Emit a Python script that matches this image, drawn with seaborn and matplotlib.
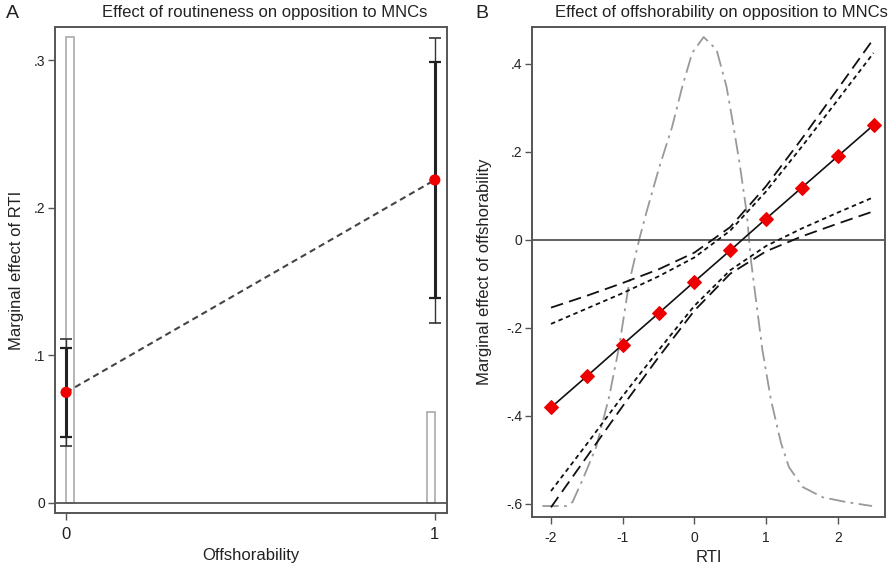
import numpy as np
import pandas as pd
import matplotlib
matplotlib.use("Agg")
import matplotlib.pyplot as plt
import seaborn as sns

# ---- panel A: effect of routineness (RTI) by offshorability ----
offsh = [0, 1]
me_rti = [0.075, 0.219]
ci95_lo = [0.0386, 0.1218]
ci95_hi = [0.111, 0.3155]
ci90_lo = [0.045, 0.1388]
ci90_hi = [0.105, 0.2988]
offsh_share = [0.316, 0.062]

# ---- panel B: effect of offshorability along RTI ----
rti = [-2, -1.5, -1, -0.5, 0, 0.5, 1, 1.5, 2, 2.5]
me_off = [-0.381, -0.310, -0.238, -0.167, -0.095, -0.024, 0.048, 0.119, 0.190, 0.261]
up95 = [-0.154, -0.127, -0.098, -0.067, -0.029, 0.029, 0.122, 0.230, 0.343, 0.457]
lo95 = [-0.608, -0.493, -0.378, -0.267, -0.161, -0.077, -0.026, 0.008, 0.037, 0.065]
up90 = [-0.191, -0.156, -0.121, -0.083, -0.040, 0.021, 0.110, 0.212, 0.318, 0.425]
lo90 = [-0.571, -0.464, -0.355, -0.251, -0.150, -0.069, -0.014, 0.026, 0.062, 0.097]

# kernel density of RTI (drawn on hidden second axis)
dens_x = [-2.12, -1.78, -1.70, -1.56, -1.37, -1.19, -1.05, -0.91, -0.77, -0.67, -0.49,
          -0.31, -0.17, -0.03, 0.13, 0.31, 0.45, 0.53, 0.63, 0.73, 0.79, 0.86, 0.95,
          1.07, 1.21, 1.32, 1.51, 1.79, 2.12, 2.48]
dens_y = [0.0, 0.0, 0.005, 0.033, 0.074, 0.137, 0.200, 0.281, 0.335, 0.369, 0.426,
          0.477, 0.527, 0.570, 0.590, 0.574, 0.527, 0.486, 0.432, 0.369, 0.309, 0.259,
          0.196, 0.133, 0.079, 0.049, 0.024, 0.011, 0.005, 0.0]

sns.set_theme(style="white")
plt.rcParams['font.family'] = ['Liberation Sans', 'DejaVu Sans']

W, H = 892, 567
fig = plt.figure(figsize=(W / 100, H / 100), dpi=100)

def px_axes(l, t, r, b):
    return fig.add_axes([l / W, 1 - b / H, (r - l) / W, (b - t) / H])

frame = '#555555'
txt = '#222222'

def style_frame(ax):
    for s in ax.spines.values():
        s.set_color(frame)
        s.set_linewidth(1.4)
    ax.tick_params(direction='out', length=5, width=1, color=frame, pad=2,
                   left=True, bottom=True, labelcolor=txt)

# ---------------- panel A ----------------
axA = px_axes(55, 27, 447, 513)
style_frame(axA)

# histogram of offshorability (outline bars)
axA.bar([offsh[0]], [offsh_share[0]], width=0.022, align='edge',
        facecolor='none', edgecolor='#aaaaaa', linewidth=1.2)
axA.bar([offsh[1]], [offsh_share[1]], width=-0.022, align='edge',
        facecolor='none', edgecolor='#aaaaaa', linewidth=1.2)

axA.axhline(0, color=frame, lw=1.3, zorder=2)

dfA = pd.DataFrame({'offsh': offsh, 'me': me_rti})
sns.lineplot(data=dfA, x='offsh', y='me', ax=axA, color='#444444', lw=1.5,
             linestyle=(0, (3, 2)), zorder=3)
axA.errorbar(offsh, me_rti,
             yerr=[np.subtract(me_rti, ci95_lo), np.subtract(ci95_hi, me_rti)],
             fmt='none', ecolor='#333333', elinewidth=1.0, capsize=4.5, capthick=1.2, zorder=4)
axA.errorbar(offsh, me_rti,
             yerr=[np.subtract(me_rti, ci90_lo), np.subtract(ci90_hi, me_rti)],
             fmt='none', ecolor='#222222', elinewidth=2.2, capsize=4.5, capthick=1.6, zorder=5)
sns.scatterplot(data=dfA, x='offsh', y='me', ax=axA, color='#ee0000', s=65,
                edgecolor='none', zorder=6)

axA.set_xlim(-0.03, 1.033)
axA.set_ylim(-0.0068, 0.3227)
axA.set_xticks([0, 1])
axA.set_xticklabels(['0', '1'], fontsize=12)
axA.set_yticks([0, 0.1, 0.2, 0.3])
axA.set_yticklabels(['0', '.1', '.2', '.3'], fontsize=10)
axA.tick_params(axis='x', pad=5)
axA.set_xlabel('Offshorability', fontsize=12, color=txt)
axA.set_ylabel('Marginal effect of RTI', fontsize=12, color=txt)
axA.xaxis.set_label_coords(0.5, -0.072)
axA.yaxis.set_label_coords(-0.079, 0.5)

# ---------------- panel B ----------------
axB = px_axes(532, 27, 885, 517)
style_frame(axB)

axB2 = axB.twinx()
axB2.set_ylim(-0.0138, 0.6026)
axB2.axis('off')
dfD = pd.DataFrame({'rti': dens_x, 'dens': dens_y})
sns.lineplot(data=dfD, x='rti', y='dens', ax=axB2, color='#999999', lw=1.3,
             linestyle=(0, (9, 3, 1.5, 3)))

axB.axhline(0, color=frame, lw=1.3, zorder=1)

dfB = pd.DataFrame({'rti': rti, 'me': me_off, 'up95': up95, 'lo95': lo95,
                    'up90': up90, 'lo90': lo90})
for col in ['up95', 'lo95']:
    sns.lineplot(data=dfB, x='rti', y=col, ax=axB, color='#111111', lw=1.3,
                 linestyle=(0, (7, 3.5)))
for col in ['up90', 'lo90']:
    sns.lineplot(data=dfB, x='rti', y=col, ax=axB, color='#111111', lw=1.3,
                 linestyle=(0, (2.5, 2)))
sns.lineplot(data=dfB, x='rti', y='me', ax=axB, color='#111111', lw=1.2,
             marker='D', markersize=7, markerfacecolor='#ee0000',
             markeredgecolor='#ee0000')

axB.set_xlim(-2.265, 2.66)
axB.set_ylim(-0.63, 0.484)
axB.set_xticks([-2, -1, 0, 1, 2])
axB.set_xticklabels(['-2', '-1', '0', '1', '2'], fontsize=10)
axB.set_yticks([-0.6, -0.4, -0.2, 0, 0.2, 0.4])
axB.set_yticklabels(['-.6', '-.4', '-.2', '0', '.2', '.4'], fontsize=10)
axB.tick_params(axis='x', pad=5)
axB.set_xlabel('RTI', fontsize=12, color=txt)
axB.set_ylabel('Marginal effect of offshorability', fontsize=12, color=txt)
axB.xaxis.set_label_coords(0.5, -0.068)
axB.yaxis.set_label_coords(-0.114, 0.5)
axB.set_zorder(axB2.get_zorder() + 1)
axB.patch.set_visible(False)

# titles and panel letters
fig.text(265 / W, 1 - 12 / H, 'Effect of routineness on opposition to MNCs',
         ha='center', va='center', fontsize=12, color=txt)
fig.text(721 / W, 1 - 13 / H, 'Effect of offshorability on opposition to MNCs',
         ha='center', va='center', fontsize=12, color=txt)
fig.text(12 / W, 1 - 13 / H, 'A', ha='center', va='center', fontsize=14, color=txt)
fig.text(482 / W, 1 - 14 / H, 'B', ha='center', va='center', fontsize=14, color=txt)

fig.savefig('out.png', dpi=100)
